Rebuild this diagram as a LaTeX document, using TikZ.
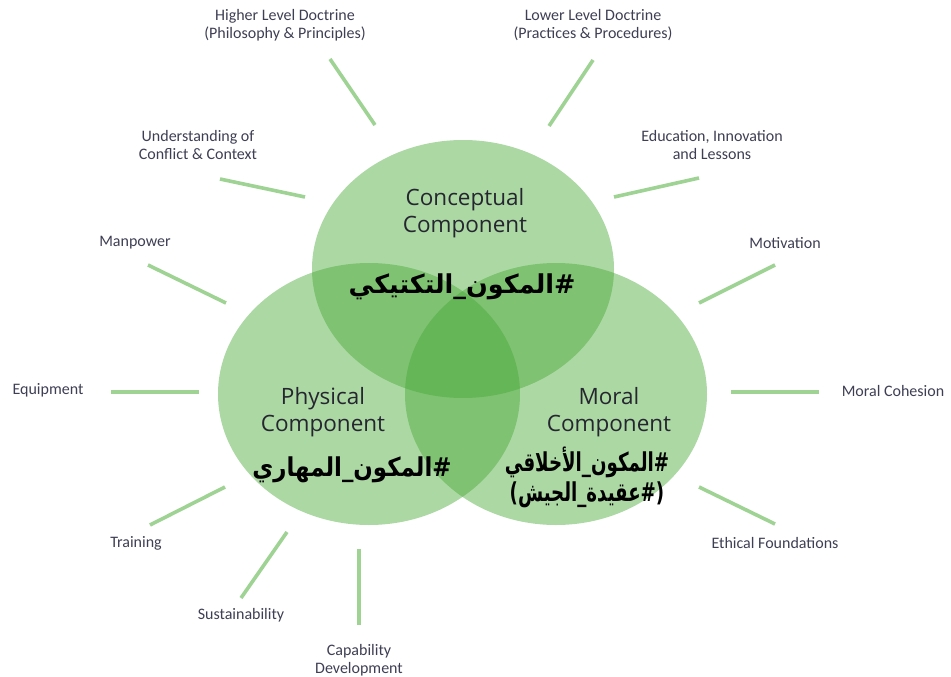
\documentclass[tikz,border=0pt]{standalone}
\usepackage{graphicx}
\usepackage{fontspec}
\setmainfont{Carlito}
\newfontfamily\complabfont{Open Sans}
\newfontfamily\arabicfont[Script=Arabic]{DejaVu Sans}
\TeXXeTstate=1
\usetikzlibrary{shapes.geometric}
\definecolor{venngreen}{RGB}{71,168,53}
\definecolor{spokegreen}{RGB}{158,211,148}
\definecolor{labtxt}{RGB}{62,62,84}
\definecolor{comptxt}{RGB}{38,38,48}
\tikzset{
  vennset/.style={ellipse, draw=none, fill=venngreen, fill opacity=0.45, inner sep=0pt, minimum width=302pt},
  spokeline/.style={draw=spokegreen, line width=3.6pt},
  outerlab/.style={text=labtxt, font=\fontsize{16}{18}\selectfont, align=center, inner sep=0pt},
  complab/.style={text=comptxt, font=\complabfont\fontsize{22.5}{27}\selectfont, align=center, inner sep=0pt},
  arablab/.style={text=black, font=\arabicfont\bfseries\fontsize{26}{30}\selectfont, align=center, inner sep=0pt}
}
\begin{document}
\begin{tikzpicture}[x=1pt,y=-1pt]
\useasboundingbox (0,0) rectangle (951,677);
% circles
\node[vennset, minimum height=258pt] (conc) at (463,269) {};
\node[vennset, minimum height=262pt] (phys) at (369,394) {};
\node[vennset, minimum height=262pt] (moral) at (556,394) {};
% spoke endpoints
\coordinate (hldA) at (330,59);  \coordinate (hldB) at (375,125);
\coordinate (lldA) at (593,60);  \coordinate (lldB) at (549,126);
\coordinate (uocA) at (220,179); \coordinate (uocB) at (305,197);
\coordinate (eilA) at (699,178); \coordinate (eilB) at (614,197);
\coordinate (manA) at (148,265); \coordinate (manB) at (226,303);
\coordinate (motA) at (775,265); \coordinate (motB) at (699,303);
\coordinate (equA) at (111,392); \coordinate (equB) at (199,392);
\coordinate (cohA) at (731,392); \coordinate (cohB) at (819,392);
\coordinate (traA) at (150,525); \coordinate (traB) at (225,487);
\coordinate (ethA) at (775,524); \coordinate (ethB) at (699,487);
\coordinate (susA) at (241,598); \coordinate (susB) at (287,532);
\coordinate (capA) at (359,625); \coordinate (capB) at (359,549);
\foreach \s in {hld,lld,uoc,eil,man,mot,equ,coh,tra,eth,sus,cap}
  \draw[spokeline] (\s A) -- (\s B);
% outer labels
\node[outerlab] (hld) at (285,25) {Higher Level Doctrine\\(Philosophy \& Principles)};
\node[outerlab] (lld) at (593,25) {Lower Level Doctrine\\(Practices \& Procedures)};
\node[outerlab] (uoc) at (198,145) {Understanding of\\Conflict \& Context};
\node[outerlab] (eil) at (712,145) {Education, Innovation\\and Lessons};
\node[outerlab] (man) at (135,243) {Manpower};
\node[outerlab] (mot) at (785,243) {Motivation};
\node[outerlab] (equ) at (48,390) {Equipment};
\node[outerlab] (coh) at (893,391) {Moral Cohesion};
\node[outerlab] (tra) at (136,543) {Training};
\node[outerlab] (eth) at (775,543) {Ethical Foundations};
\node[outerlab] (sus) at (241,615) {Sustainability};
\node[outerlab] (cap) at (359,660) {Capability\\Development};
% component labels
\node[complab] (conclab) at (465,213) {Conceptual\\Component};
\node[complab] (physlab) at (323,412) {Physical\\Component};
\node[complab] (morallab) at (609,412) {Moral\\Component};
% arabic labels
\node[arablab] (concar) at (462,287) {\scalebox{0.98}[1]{\beginR\#المكون\_التكتيكي\endR}};
\node[arablab] (physar) at (352,470) {\scalebox{0.88}[1]{\beginR\#المكون\_المهاري\endR}};
\node[arablab] (moralar) at (587,477) {\scalebox{0.70}[1]{\beginR\#المكون\_الأخلاقي\endR}\\\scalebox{0.70}[1]{\beginR(\#عقيدة\_الجيش)\endR}};
\end{tikzpicture}
\end{document}
